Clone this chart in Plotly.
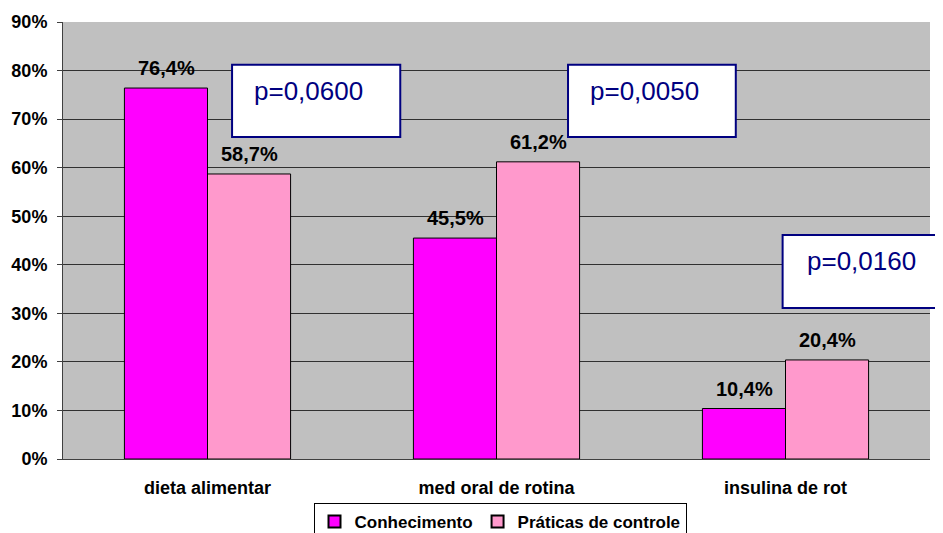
import plotly.graph_objects as go

categories = ["dieta alimentar", "med oral de rotina", "insulina de rot"]
conhecimento = [76.4, 45.5, 10.4]
praticas = [58.7, 61.2, 20.4]
series_names = ["Conhecimento", "Práticas de controle"]
p_values = ["p=0,0600", "p=0,0050", "p=0,0160"]
y_ticks = [0, 10, 20, 30, 40, 50, 60, 70, 80, 90]
y_tick_labels = [f"{v}%" for v in y_ticks]


def fmt(v):
    return f"{v:.1f}".replace(".", ",") + "%"


FAM = "Liberation Sans, Arial, sans-serif"
font_bold = dict(family=FAM, size=18, color="black", weight="bold")
label_font = dict(family=FAM, size=20, color="black", weight="bold")

fig = go.Figure()
fig.add_trace(go.Bar(
    x=categories, y=conhecimento, name=series_names[0],
    marker=dict(color="#FF00FF", line=dict(color="black", width=1)),
))
fig.add_trace(go.Bar(
    x=categories, y=praticas, name=series_names[1],
    marker=dict(color="#FF99CC", line=dict(color="black", width=1)),
))

annotations = []
# data labels above bars
for vals, shift in ((conhecimento, -41.5), (praticas, 41.5)):
    for c, v in zip(categories, vals):
        annotations.append(dict(x=c, y=v, xref="x", yref="y", text=fmt(v), showarrow=False,
                                xanchor="center", yanchor="bottom", xshift=shift, yshift=7,
                                font=label_font))

# p-value boxes (paper coordinates)
boxes = [
    (0.195, 0.389, 0.737, 0.902, 0.218, 0.842),
    (0.5825, 0.776, 0.737, 0.902, 0.6055, 0.842),
    (0.830, 1.03, 0.3455, 0.5126, 0.856, 0.453),
]
shapes = []
for (x0, x1, y0, y1, tx, ty), txt in zip(boxes, p_values):
    shapes.append(dict(type="rect", xref="paper", yref="paper", x0=x0, x1=x1, y0=y0, y1=y1,
                       fillcolor="white", line=dict(color="#000080", width=2), layer="above"))
    annotations.append(dict(xref="paper", yref="paper", x=tx, y=ty, xanchor="left", yanchor="middle",
                            text=txt, showarrow=False,
                            font=dict(family=FAM, size=26, color="#000080")))

fig.update_layout(
    width=935, height=525,
    margin=dict(l=55, r=13, t=14, b=74, autoexpand=False),
    paper_bgcolor="white", plot_bgcolor="#C0C0C0",
    barmode="group", bargap=0.425, bargroupgap=0,
    showlegend=True,
    legend=dict(orientation="h", x=(500 - 8) / 935, xanchor="center", xref="container",
                y=1 - (503 - 8) / 525, yanchor="top", yref="container",
                bordercolor="black", borderwidth=1, bgcolor="white",
                font=dict(family=FAM, size=17, color="black", weight="bold"),
                itemwidth=30, tracegroupgap=0, itemsizing="constant"),
    shapes=shapes,
    annotations=annotations,
    xaxis=dict(showgrid=False, tickfont=font_bold, showline=True, linecolor="#404040",
               ticks="", tickangle=0, automargin=False, ticklabelstandoff=12),
    yaxis=dict(range=[0, 90], tickvals=y_ticks, ticktext=y_tick_labels, tickfont=font_bold,
               showgrid=True, gridcolor="#303030", gridwidth=1, automargin=False,
               showline=True, linecolor="#404040", ticks="outside", ticklen=5, tickcolor="#404040",
               zeroline=False, ticklabelstandoff=6),
)

fig.write_html("out.html")
